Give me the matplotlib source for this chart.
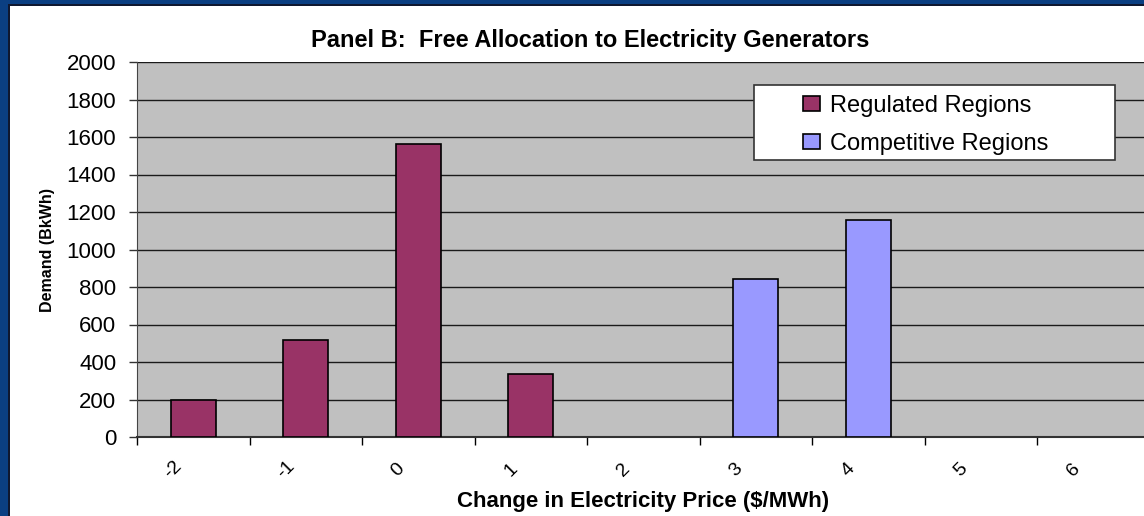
import numpy as np
import matplotlib
matplotlib.use('Agg')
import matplotlib.pyplot as plt
from matplotlib.patches import Rectangle
from matplotlib.transforms import ScaledTranslation

plt.rcParams['font.family'] = ['Liberation Sans', 'DejaVu Sans']

# data
prices = [-2, -1, 0, 1, 2, 3, 4, 5, 6]
regulated = [200, 515, 1565, 335, 0, 0, 0, 0, 0]
competitive = [0, 0, 0, 0, 0, 845, 1155, 0, 0]
y_ticks = [0, 200, 400, 600, 800, 1000, 1200, 1400, 1600, 1800, 2000]

fig = plt.figure(figsize=(11.44, 5.16), dpi=100)
fig.patch.set_facecolor('white')

# navy frame round the slide
fig.patches.append(Rectangle((0, 0), 8 / 1144, 1, transform=fig.transFigure,
                             facecolor='#0B3F82', edgecolor='none', zorder=0))
fig.patches.append(Rectangle((0, 1 - 5 / 516), 1, 5 / 516, transform=fig.transFigure,
                             facecolor='#0B3F82', edgecolor='none', zorder=0))
fig.patches.append(Rectangle((8 / 1144, 1 - 6 / 516), 1, 1.5 / 516, transform=fig.transFigure,
                             facecolor='#101830', edgecolor='none', zorder=0))
fig.patches.append(Rectangle((8 / 1144, 0), 1.5 / 1144, 1 - 5 / 516, transform=fig.transFigure,
                             facecolor='#101830', edgecolor='none', zorder=0))

ax = fig.add_axes([137 / 1144, 79 / 516, 1012.5 / 1144, 375 / 516])
ax.set_facecolor('#C0C0C0')

x = np.arange(len(prices))
reg = [v if v > 0 else np.nan for v in regulated]
com = [v if v > 0 else np.nan for v in competitive]
ax.bar(x, reg, width=0.4, color='#993366', edgecolor='black', linewidth=1.2,
       label='Regulated Regions', zorder=3)
ax.bar(x, com, width=0.4, color='#9999FF', edgecolor='black', linewidth=1.2,
       label='Competitive Regions', zorder=3)

ax.set_xlim(-0.5, len(prices) - 0.5)
ax.set_ylim(0, 2000)
ax.set_yticks(y_ticks)
ax.set_yticklabels([str(t) for t in y_ticks], fontsize=16)
ax.yaxis.grid(True, color='#1a1a1a', linewidth=1.0, zorder=1)
ax.set_axisbelow(True)

# category labels, rotated and set a little to the left like Excel does
ax.set_xticks(x)
ax.set_xticklabels([])
shift = ScaledTranslation(-20 / 100, -33 / 100, fig.dpi_scale_trans)
for xi, p in zip(x, prices):
    ax.text(xi, 0, str(p), transform=ax.get_xaxis_transform() + shift,
            rotation=45, ha='center', va='center', fontsize=14)
ax.set_xticks(np.arange(-0.5, len(prices)), minor=True)
ax.tick_params(axis='x', which='major', length=0)
ax.tick_params(axis='x', which='minor', length=6, width=1, color='black', direction='out')
ax.tick_params(axis='y', length=6, width=1, color='#333333', direction='out', pad=9)

for s in ['top', 'right']:
    ax.spines[s].set_visible(False)
ax.spines['left'].set_color('#444444')
ax.spines['bottom'].set_color('#333333')
ax.spines['bottom'].set_linewidth(1.5)

ax.set_ylabel('Demand (BkWh)', fontsize=11.5, fontweight='bold', labelpad=8)
fig.text(643 / 1144, 1 - 502 / 516, 'Change in Electricity Price ($/MWh)',
         ha='center', va='center', fontsize=16, fontweight='bold')
fig.text(590 / 1144, 1 - 40 / 516, 'Panel B:  Free Allocation to Electricity Generators',
         ha='center', va='center', fontsize=17, fontweight='bold')

# legend box drawn separately (wide side padding as in the original)
ax.add_patch(Rectangle((0.6094, 0.7387), 0.3566, 0.2, transform=ax.transAxes,
                       facecolor='white', edgecolor='#333333', linewidth=1.2,
                       zorder=5, clip_on=False))
leg = ax.legend(loc='upper left', bbox_to_anchor=(0.6578, 0.912),
                fontsize=17, frameon=False, handlelength=0.72,
                handleheight=0.6, borderpad=0, labelspacing=0.68,
                borderaxespad=0, handletextpad=0.42)
leg.set_zorder(6)

plt.savefig('out.png', dpi=100)
